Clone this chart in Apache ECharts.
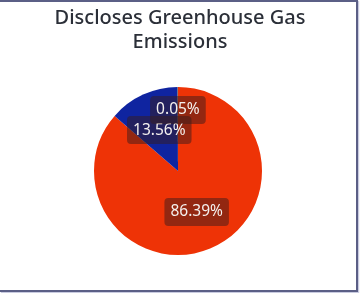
<!DOCTYPE html>
<html><head><meta charset="utf-8">
<script src="https://cdn.jsdelivr.net/npm/echarts@6/dist/echarts.min.js"></script>
<style>
html,body{margin:0;padding:0;background:#fff;}
#frame{position:absolute;left:0;top:0;width:356px;height:288px;border-top:2px solid #5b5f86;border-right:2px solid #5b5f86;border-bottom:2px solid #5b5f86;box-shadow:1px 1px 1px #c9cbe0;}
#c{position:absolute;left:0;top:0;width:360px;height:293px;}
</style></head>
<body>
<div id="frame"></div>
<div id="c"></div>
<script>
const titleText = 'Discloses Greenhouse Gas\nEmissions';
const categories = ['No', 'Yes', 'Unknown'];
const values = [86.39, 13.56, 0.05];
const colors = ['#EE3306', '#0F24A0', '#F2C80F'];

const chart = echarts.init(document.getElementById('c'), null, {renderer:'canvas'});
chart.setOption({
  animation:false,
  title:{text:titleText,left:'center',top:1,textStyle:{fontFamily:'Noto Sans',fontSize:20,fontWeight:500,color:'#2b2f38',lineHeight:24}},
  series:[{
    type:'pie',
    center:[178,171],
    radius:84,
    startAngle:90,
    clockwise:true,
    percentPrecision:2,
    avoidLabelOverlap:false,
    labelLayout:{hideOverlap:false},
    data:categories.map((n,i)=>({name:n,value:values[i],itemStyle:{color:colors[i]},
      label: i===2 ? {offset:[0,-16]} : {}})),
    label:{position:'inside',formatter:'{d}%',color:'#f4f0ee',fontFamily:'Noto Sans',fontSize:15.5,lineHeight:18,
      backgroundColor:'rgba(55,28,28,0.5)',borderRadius:4,padding:[5,6]},
    labelLine:{show:false},
    emphasis:{disabled:true}
  }]
});
</script>
</body></html>
